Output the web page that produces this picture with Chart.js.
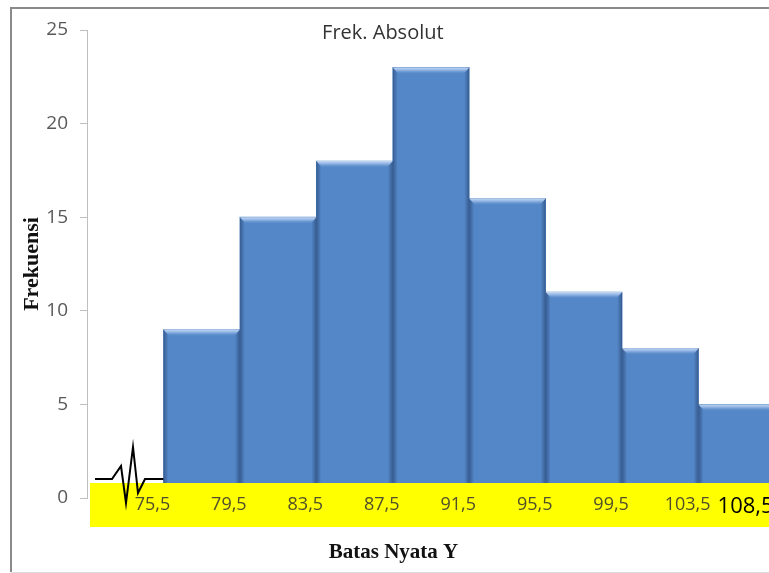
<!DOCTYPE html>
<html>
<head>
<meta charset="utf-8">
<script src="https://cdn.jsdelivr.net/npm/chart.js@4.4.0/dist/chart.umd.min.js"></script>
<style>
  html, body { margin: 0; padding: 0; background: #fff; overflow: hidden; }
  #wrap { position: relative; width: 790px; height: 573px; }
</style>
</head>
<body>
<div id="wrap"><canvas id="histChart" width="790" height="573"></canvas></div>
<script>
// class intervals (first one is the empty gap behind the axis break)
const classIntervals = ['71,5-75,5', '75,5-79,5', '79,5-83,5', '83,5-87,5', '87,5-91,5',
                        '91,5-95,5', '95,5-99,5', '99,5-103,5', '103,5-108,5'];
const frequencies = [null, 9, 15, 18, 23, 16, 11, 8, 5];
// real class boundaries written under the bars
const boundaryLabels = ['75,5', '79,5', '83,5', '87,5', '91,5', '95,5', '99,5', '103,5', '108,5'];
const yMin = 0, yMax = 25, yStep = 5;
const chartTitle = 'Frek. Absolut';
const xTitle = 'Batas Nyata Y';
const yTitle = 'Frekuensi';

const sansFont = "'Open Sans', 'Liberation Sans', sans-serif";
const serifFont = "'Liberation Serif', 'DejaVu Serif', serif";

// frame, bevel on the bars, yellow band with boundaries, axis break, titles
const decorPlugin = {
    id: 'decor',
    beforeDraw(chart) {
        const ctx = chart.ctx;
        ctx.save();
        ctx.strokeStyle = '#8a8a8a';
        ctx.lineWidth = 2;
        ctx.beginPath();
        ctx.moveTo(chart.width + 5, 8);
        ctx.lineTo(11, 8);
        ctx.lineTo(11, 572);
        ctx.stroke();
        ctx.strokeStyle = '#dcdcdc';
        ctx.lineWidth = 1;
        ctx.beginPath();
        ctx.moveTo(11, 572.5);
        ctx.lineTo(chart.width + 5, 572.5);
        ctx.stroke();
        ctx.restore();
    },
    afterDatasetsDraw(chart) {
        const ctx = chart.ctx;
        const area = chart.chartArea;
        const xs = chart.scales.x;
        const ys = chart.scales.y;
        const meta = chart.getDatasetMeta(0);

        // bevel look of the columns
        ctx.save();
        meta.data.forEach((bar, i) => {
            if (frequencies[i] == null) return;
            const p = bar.getProps(['x', 'y', 'base', 'width'], true);
            const l = p.x - p.width / 2, r = p.x + p.width / 2;
            const t = p.y, b = p.base;
            let g = ctx.createLinearGradient(l, 0, l + 5, 0);
            g.addColorStop(0, 'rgba(30,56,98,0.55)');
            g.addColorStop(1, 'rgba(30,56,98,0)');
            ctx.fillStyle = g;
            ctx.fillRect(l, t, 5, b - t);
            g = ctx.createLinearGradient(r, 0, r - 5, 0);
            g.addColorStop(0, 'rgba(30,56,98,0.55)');
            g.addColorStop(1, 'rgba(30,56,98,0)');
            ctx.fillStyle = g;
            ctx.fillRect(r - 5, t, 5, b - t);
            g = ctx.createLinearGradient(0, t, 0, t + 7);
            g.addColorStop(0, '#c4d8f2');
            g.addColorStop(0.4, '#8fb3e3');
            g.addColorStop(1, 'rgba(85,136,200,0)');
            ctx.fillStyle = g;
            ctx.beginPath();
            ctx.moveTo(l, t);
            ctx.lineTo(r, t);
            ctx.lineTo(r - 6, t + 7);
            ctx.lineTo(l + 6, t + 7);
            ctx.closePath();
            ctx.fill();
        });
        ctx.restore();

        const zeroY = ys.getPixelForValue(0);
        const catW = xs.getPixelForValue(1) - xs.getPixelForValue(0);

        // yellow band over the base of the columns
        ctx.save();
        ctx.fillStyle = '#ffff00';
        ctx.fillRect(area.left + 3, zeroY - 15, chart.width, 44);

        // axis break zigzag
        const bx = area.left, by = zeroY - 19;
        const zig = [[8, 0], [25, 0], [34, -13], [39, 24], [46, -32], [51, 14], [58, 0], [catW, 0]];
        ctx.strokeStyle = '#000';
        ctx.lineWidth = 2;
        ctx.lineJoin = 'miter';
        ctx.beginPath();
        zig.forEach(([dx, dy], k) => {
            if (k === 0) ctx.moveTo(bx + dx, by + dy);
            else ctx.lineTo(bx + dx, by + dy);
        });
        ctx.stroke();

        // boundary labels
        ctx.textBaseline = 'middle';
        boundaryLabels.forEach((lab, i) => {
            const edge = xs.getPixelForValue(i) + catW / 2;
            if (i === boundaryLabels.length - 1) {
                ctx.font = '22px ' + sansFont;
                ctx.fillStyle = '#000';
                ctx.textAlign = 'left';
                ctx.fillText(lab, xs.getPixelForValue(i - 1) + catW / 2 + 19, zeroY + 9);
            } else {
                ctx.font = '18px ' + sansFont;
                ctx.fillStyle = '#4f4f2a';
                ctx.textAlign = 'center';
                ctx.fillText(lab, edge - 11, zeroY + 7);
            }
        });

        // chart title inside the plot area
        ctx.font = '20px ' + sansFont;
        ctx.fillStyle = '#333';
        ctx.textAlign = 'center';
        ctx.fillText(chartTitle, area.left + area.width * 0.43, area.top + 3);

        // x axis title
        ctx.font = 'bold 21px ' + serifFont;
        ctx.fillStyle = '#111';
        ctx.fillText(xTitle, (ys.left + area.right) / 2, zeroY + 55);
        ctx.restore();
    }
};

const ctx = document.getElementById('histChart').getContext('2d');
const histChart = new Chart(ctx, {
    type: 'bar',
    data: {
        labels: classIntervals,
        datasets: [{
            label: chartTitle,
            data: frequencies,
            backgroundColor: '#5487c8',
            borderWidth: 0,
            barPercentage: 1,
            categoryPercentage: 1
        }]
    },
    options: {
        responsive: false,
        animation: false,
        devicePixelRatio: 1,
        layout: { padding: { left: 12, right: 15, top: 30, bottom: 0 } },
        plugins: {
            legend: { display: false },
            title: { display: false },
            tooltip: { enabled: false }
        },
        scales: {
            x: {
                grid: { display: false },
                border: { display: false },
                ticks: { display: false },
                afterFit(scale) { scale.height = 75; }
            },
            y: {
                min: yMin,
                max: yMax,
                ticks: {
                    stepSize: yStep,
                    padding: 12,
                    color: '#595959',
                    font: { family: sansFont, size: 19 }
                },
                grid: { drawOnChartArea: false, drawTicks: true, tickLength: 7, color: '#bfbfbf' },
                border: { display: true, color: '#bfbfbf' },
                title: {
                    display: true,
                    text: yTitle,
                    color: '#111',
                    padding: { top: 7 },
                    font: { family: serifFont, size: 22, weight: 'bold' }
                },
                afterFit(scale) { scale.width = 75; }
            }
        }
    },
    plugins: [decorPlugin]
});
</script>
</body>
</html>
